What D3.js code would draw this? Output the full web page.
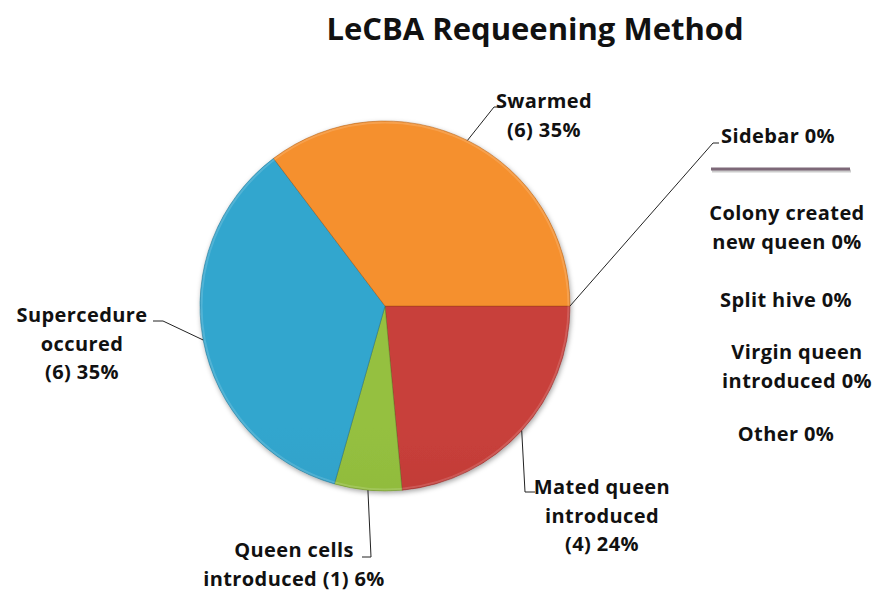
<!DOCTYPE html>
<html>
<head>
<meta charset="utf-8">
<script src="https://cdn.jsdelivr.net/npm/d3@7"></script>
<style>
  body { margin: 0; background: #fff; }
  text { font-family: "Open Sans", Lato, sans-serif; font-weight: bold; fill: #111; }
</style>
</head>
<body>
<script>
(function(){

// data arrays
var categories = ["Mated queen introduced", "Queen cells introduced", "Supercedure occured", "Swarmed",
                  "Sidebar", "Colony created new queen", "Split hive", "Virgin queen introduced", "Other"];
var counts = [4, 1, 6, 6, 0, 0, 0, 0, 0];
var labelLines = [
    ["Mated queen", "introduced", "(4) 24%"],
    ["Queen cells", "introduced (1) 6%"],
    ["Supercedure", "occured", "(6) 35%"],
    ["Swarmed", "(6) 35%"],
    ["Sidebar 0%"],
    ["Colony created", "new queen 0%"],
    ["Split hive 0%"],
    ["Virgin queen", "introduced 0%"],
    ["Other 0%"]
];
var title = "LeCBA Requeening Method";

// slice colours (top, bottom of gradient)
var sliceColors = [["#c8403b", "#a82a27"], ["#95c040", "#7da72f"], ["#33a6ce", "#258db3"], ["#f5902e", "#dc7012"]];

// layout
var width = 883, height = 593;
var cx = 385, cy = 306, radius = 185;
// label anchor (text centre x, first line y) and leader elbow for each category
var labelLayout = [
    {x: 602, y: 494, lead: [[525, 492], [535, 492]]},
    {x: 294, y: 557, lead: [[371, 557], [362, 557]]},
    {x: 82,  y: 322, lead: [[163, 321], [153, 321]]},
    {x: 544, y: 108, lead: [[494, 107], [503, 107]]},
    {x: 778, y: 143, lead: [[713, 143], [719, 143]]},
    {x: 787, y: 220, lead: null},
    {x: 786, y: 307, lead: null},
    {x: 797, y: 359, lead: null},
    {x: 786, y: 441, lead: null}
];
var lineHeight = 28.5;

var svg = d3.select("body").append("svg")
    .attr("width", width)
    .attr("height", height);

var defs = svg.append("defs");

var shadow = defs.append("filter").attr("id", "shadow")
    .attr("x", "-10%").attr("y", "-10%").attr("width", "120%").attr("height", "120%");
shadow.append("feDropShadow")
    .attr("dx", 1).attr("dy", 2).attr("stdDeviation", 2.5)
    .attr("flood-color", "#000").attr("flood-opacity", 0.35);

sliceColors.forEach(function(c, i){
    var g = defs.append("linearGradient").attr("id", "grad" + i)
        .attr("gradientUnits", "userSpaceOnUse")
        .attr("x1", 0).attr("y1", cy - radius).attr("x2", 0).attr("y2", cy + radius);
    g.append("stop").attr("offset", "0%").attr("stop-color", c[0]);
    g.append("stop").attr("offset", "100%").attr("stop-color", c[1]);
});

// title
svg.append("text")
    .attr("x", 535)
    .attr("y", 40)
    .attr("text-anchor", "middle")
    .style("font-size", "31px")
    .text(title);

var data = categories.map(function(d, i){ return {name: d, value: counts[i], i: i}; });

var pie = d3.pie()
    .sort(null)
    .value(function(d){ return d.value; })
    .startAngle(Math.PI / 2)
    .endAngle(Math.PI / 2 + 2 * Math.PI);

var arcs = pie(data);

var arc = d3.arc().innerRadius(0).outerRadius(radius);
var edgeArc = d3.arc().innerRadius(radius).outerRadius(radius);

var pieG = svg.append("g")
    .attr("transform", "translate(" + cx + "," + cy + ")")
    .attr("filter", "url(#shadow)");

pieG.selectAll("path")
    .data(arcs.filter(function(d){ return d.value > 0; }))
    .enter()
    .append("path")
    .attr("d", arc)
    .attr("fill", function(d){ return "url(#grad" + d.data.i + ")"; })
    .attr("stroke", function(d){ return d3.color(sliceColors[d.data.i][1]).darker(0.8); })
    .attr("stroke-width", 0.8)
    .attr("stroke-opacity", 0.6);

// subtle highlight along the rim
pieG.append("circle")
    .attr("r", radius - 1.5)
    .attr("fill", "none")
    .attr("stroke", "#fff")
    .attr("stroke-opacity", 0.15)
    .attr("stroke-width", 2);

// leader lines
arcs.forEach(function(d, i){
    var lay = labelLayout[i];
    if (!lay.lead) return;
    var p = edgeArc.centroid(d);
    var pts = [[cx + p[0], cy + p[1]]].concat(lay.lead);
    svg.append("path")
        .attr("d", d3.line()(pts))
        .attr("fill", "none")
        .attr("stroke", "#222")
        .attr("stroke-width", 1);
});

// the stray zero-slice marker under the sidebar label
svg.append("line")
    .attr("x1", 712).attr("x2", 851)
    .attr("y1", 171).attr("y2", 171)
    .attr("stroke", "#ccc")
    .attr("stroke-width", 3);
svg.append("line")
    .attr("x1", 711).attr("x2", 850)
    .attr("y1", 169).attr("y2", 169)
    .attr("stroke", "#7d6878")
    .attr("stroke-width", 3);

// labels
labelLines.forEach(function(lines, i){
    var lay = labelLayout[i];
    var t = svg.append("text")
        .attr("text-anchor", "middle")
        .style("font-size", "20px")
        .style("letter-spacing", "0.4px");
    lines.forEach(function(l, j){
        t.append("tspan")
            .attr("x", lay.x)
            .attr("y", lay.y + j * lineHeight)
            .text(l);
    });
});

})();
</script>
</body>
</html>
